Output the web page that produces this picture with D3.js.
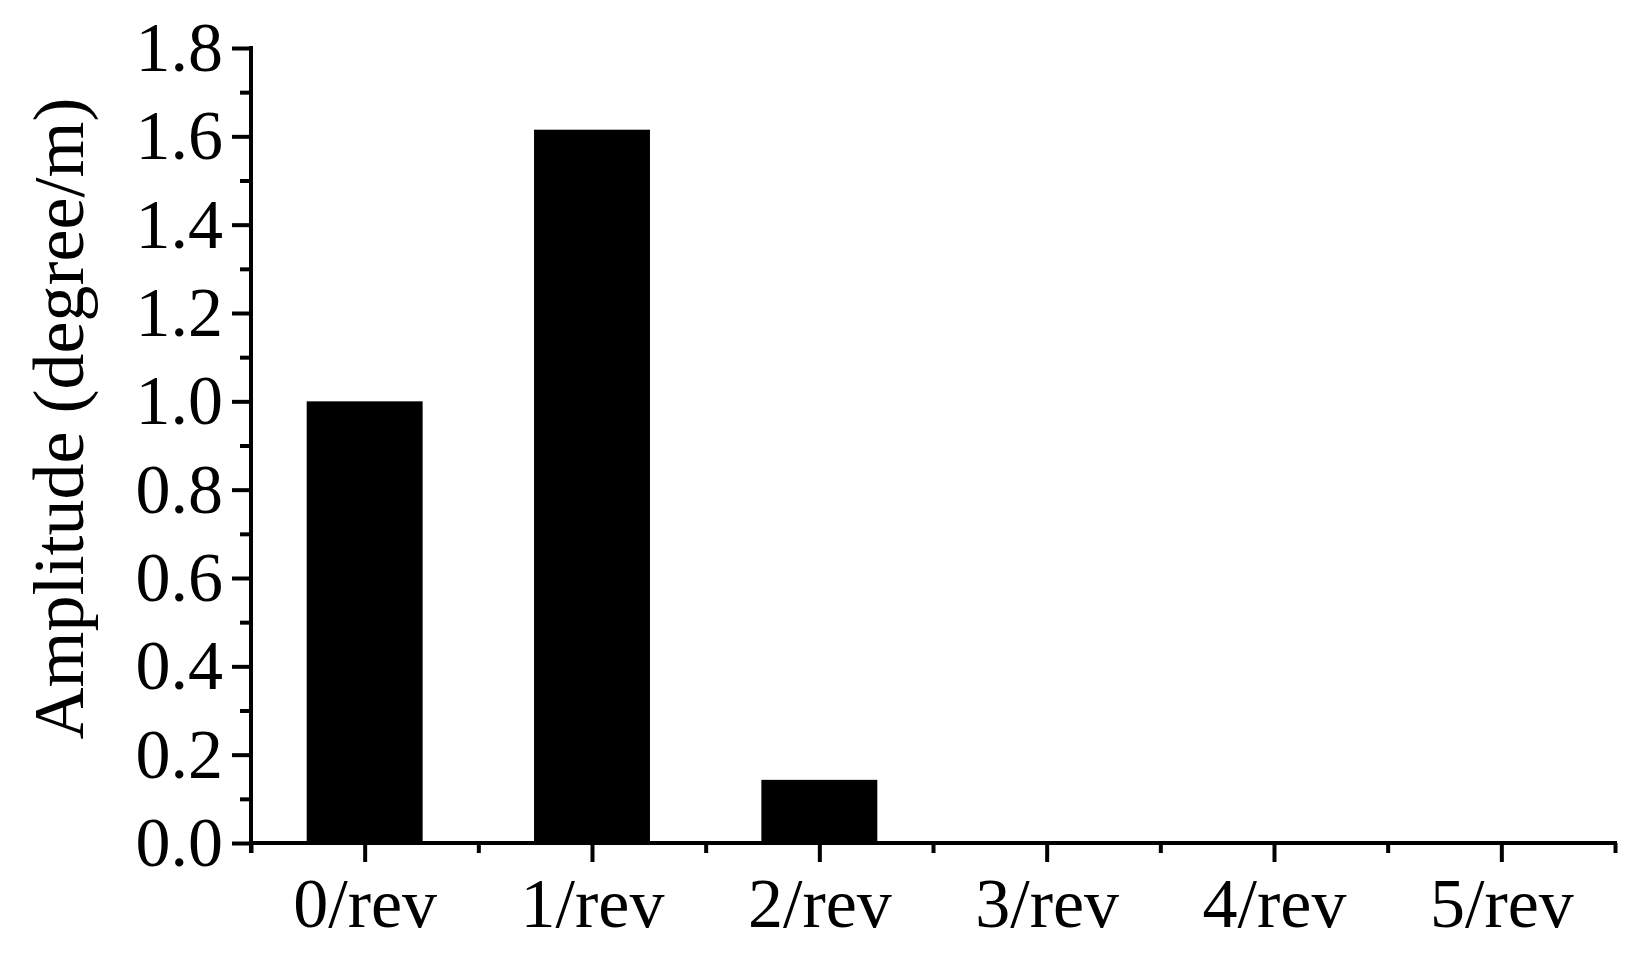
<!DOCTYPE html>
<html>
<head>
<meta charset="utf-8">
<script src="https://cdn.jsdelivr.net/npm/d3@7"></script>
<style>
  html, body { margin: 0; padding: 0; background: #fff; }
  svg { display: block; font-family: "Liberation Serif", "Times New Roman", serif; }
</style>
</head>
<body>
<svg id="chart" width="1637" height="968"></svg>
<script>
const categories = ["0/rev", "1/rev", "2/rev", "3/rev", "4/rev", "5/rev"];
const amplitudes = [1.0, 1.615, 0.143, 0, 0, 0];
const yMajorTicks = [0, 0.2, 0.4, 0.6, 0.8, 1.0, 1.2, 1.4, 1.6, 1.8];
const yMinorTicks = [0.1, 0.3, 0.5, 0.7, 0.9, 1.1, 1.3, 1.5, 1.7];
const yTitle = "Amplitude (degree/m)";

const svg = d3.select("#chart");
const mLeft = 251, mRight = 1615, mTop = 48, mBottom = 843;

const x = d3.scaleLinear().domain([-0.5, categories.length - 0.5]).range([mLeft, mRight]);
const y = d3.scaleLinear().domain([0, 1.8]).range([mBottom, mTop]);
const step = x(1) - x(0);
const barW = step * 0.51;

svg.append("rect").attr("width", 1637).attr("height", 968).attr("fill", "#fff");

// bars
svg.append("g").selectAll("rect")
  .data(amplitudes)
  .join("rect")
  .attr("x", (d, i) => x(i) - barW / 2)
  .attr("width", barW)
  .attr("y", d => y(d))
  .attr("height", d => y(0) - y(d))
  .attr("fill", "#000");

function styleAxis(g, fs) {
  g.selectAll("line").attr("stroke", "#000").attr("stroke-width", 4);
  g.selectAll("path.domain").attr("stroke", "#000").attr("stroke-width", 4);
  g.selectAll("text").attr("font-size", fs).attr("fill", "#000")
    .attr("font-family", "'Liberation Serif', 'Times New Roman', serif");
}

// y minor
const yMinor = svg.append("g").attr("transform", `translate(${mLeft},0)`)
  .call(d3.axisLeft(y).tickValues(yMinorTicks).tickSize(11).tickFormat(""));
yMinor.select(".domain").remove();
styleAxis(yMinor, 70);

// y major
const yMajor = svg.append("g").attr("transform", `translate(${mLeft},0)`)
  .call(d3.axisLeft(y).tickValues(yMajorTicks).tickSize(19).tickSizeOuter(0).tickPadding(9)
    .tickFormat(d3.format(".1f")));
yMajor.select(".domain").attr("d", `M0,${mTop - 2}V${mBottom + 10}`);
styleAxis(yMajor, 70);

// x minor
const xMinorVals = d3.range(-0.5, categories.length, 1);
const xMinor = svg.append("g").attr("transform", `translate(0,${mBottom})`)
  .call(d3.axisBottom(x).tickValues(xMinorVals).tickSize(10).tickFormat(""));
xMinor.select(".domain").remove();
styleAxis(xMinor, 70);

// x major
const xMajor = svg.append("g").attr("transform", `translate(0,${mBottom})`)
  .call(d3.axisBottom(x).tickValues(d3.range(categories.length)).tickSize(19).tickSizeOuter(0)
    .tickPadding(15).tickFormat(i => categories[i]));
xMajor.select(".domain").attr("d", `M${mLeft - 2},0H${mRight + 2}`);
styleAxis(xMajor, 70);

// y title
svg.append("text")
  .attr("transform", `translate(83,${(mTop + mBottom) / 2 - 27}) rotate(-90)`)
  .attr("text-anchor", "middle")
  .attr("font-size", 72)
  .attr("fill", "#000")
  .text(yTitle);
</script>
</body>
</html>
